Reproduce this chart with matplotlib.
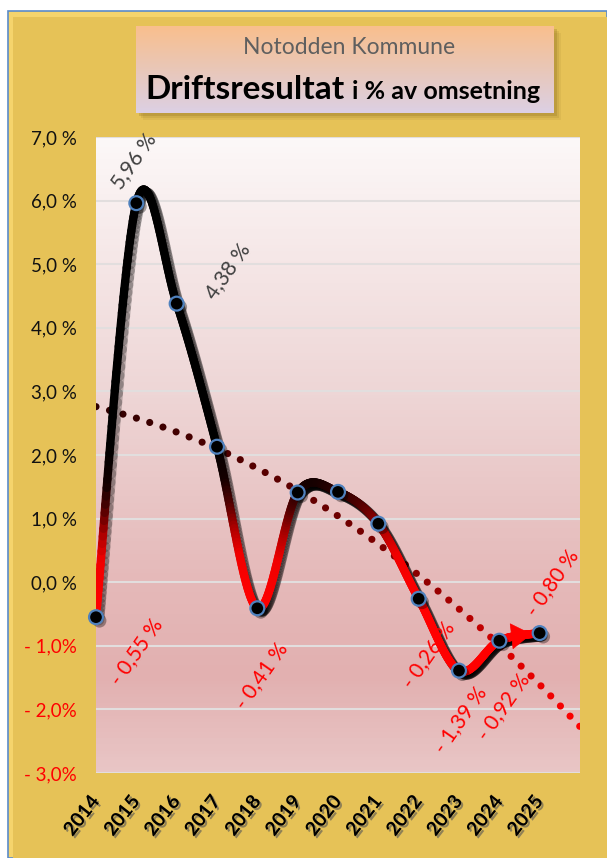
import numpy as np
import matplotlib
matplotlib.use('Agg')
import matplotlib.pyplot as plt
from matplotlib.collections import LineCollection
from matplotlib.colors import LinearSegmentedColormap
from matplotlib.patches import Rectangle, FancyArrowPatch
import matplotlib.patheffects as pe
import matplotlib.transforms as mtransforms

plt.rcParams['font.family'] = ['Lato', 'DejaVu Sans']

# data
years = ['2014', '2015', '2016', '2017', '2018', '2019',
         '2020', '2021', '2022', '2023', '2024', '2025']
values = [-0.55, 5.96, 4.38, 2.13, -0.41, 1.41, 1.42, 0.92, -0.26, -1.39, -0.92, -0.80]
labelled = [0, 1, 2, 4, 8, 9, 10, 11]          # which points carry a data label
trend = [2.76, 2.58, 2.36, 2.10, 1.79, 1.44, 1.04, 0.60, 0.11, -0.42, -0.99, -1.61, -2.27]
yticks = [-3, -2, -1, 0, 1, 2, 3, 4, 5, 6, 7]
ytick_labels = ['- 3,0%', '- 2,0%', '- 1,0%', '0,0 %', '1,0 %', '2,0 %',
                '3,0 %', '4,0 %', '5,0 %', '6,0 %', '7,0 %']

# label offsets in pixels (placement only)
label_offsets = {0: (41, -35), 1: (-3, 42), 2: (51, 33), 4: (4, -67),
                 8: (10, -56), 9: (2, -49), 10: (4, -66), 11: (13, 50)}


def smooth(x, y, n=60):
    # excel-like smoothed line (catmull-rom bezier)
    x = np.asarray(x, float)
    y = np.asarray(y, float)
    xp = np.concatenate([[x[0]], x, [x[-1]]])
    yp = np.concatenate([[y[0]], y, [y[-1]]])
    t = np.linspace(0, 1, n)
    xs, ys = [], []
    for i in range(len(x) - 1):
        p0 = np.array([x[i], y[i]])
        p3 = np.array([x[i + 1], y[i + 1]])
        p1 = p0 + (np.array([xp[i + 2], yp[i + 2]]) - np.array([xp[i], yp[i]])) / 6
        p2 = p3 - (np.array([xp[i + 3], yp[i + 3]]) - np.array([xp[i + 1], yp[i + 1]])) / 6
        b = ((1 - t) ** 3)[:, None] * p0 + (3 * (1 - t) ** 2 * t)[:, None] * p1 \
            + (3 * (1 - t) * t ** 2)[:, None] * p2 + (t ** 3)[:, None] * p3
        if i > 0:
            b = b[1:]
        xs.append(b[:, 0])
        ys.append(b[:, 1])
    return np.concatenate(xs), np.concatenate(ys)


fig = plt.figure(figsize=(6.07, 8.58), dpi=100)
fig.patch.set_facecolor('white')

# gold panel with thin blue frame
W, H = 607, 858
fig.patches.append(Rectangle((8 / W, 0), 1 - 8 / W, 1 - 11 / H, transform=fig.transFigure,
                             facecolor='#F5D46C', edgecolor='#5B8BC9', lw=1.2, zorder=-3))
fig.patches.append(Rectangle((13 / W, 0), 1 - 13 / W, 1 - 17 / H, transform=fig.transFigure,
                             facecolor='#E6C257', edgecolor='none', zorder=-2))

# title box with shadow and gradient
bx, by, bw, bh = 136 / W, 1 - 113 / H, 418 / W, 87 / H
for k, a in [(7, 0.10), (5, 0.15), (3, 0.25)]:
    fig.patches.append(Rectangle((bx + k / W, by - k / H), bw, bh, transform=fig.transFigure,
                                 facecolor='#8a6d20', alpha=a, edgecolor='none', zorder=-1))
tax = fig.add_axes([bx, by, bw, bh])
tcmap = LinearSegmentedColormap.from_list('title', ['#DCD0E4', '#E9C7B8', '#F9BF8E'])
tax.imshow(np.linspace(0, 1, 100)[:, None], cmap=tcmap, aspect='auto', origin='lower',
           extent=[0, 1, 0, 1])
tax.axis('off')
fig.text(349 / W, 1 - 48 / H, 'Notodden Kommune', ha='center', va='center',
         fontsize=16.5, color='#5F5F5F')
fig.text(145 / W, 1 - 99 / H, 'Driftsresultat', ha='left', va='baseline',
         fontsize=24, fontweight='bold', color='black')
fig.text(352 / W, 1 - 99 / H, 'i % av omsetning', ha='left', va='baseline',
         fontsize=18, fontweight='bold', color='black')

# plot area
ax = fig.add_axes([96 / W, 85 / H, 484 / W, 636 / H])
ax.set_xlim(0, 12)
ax.set_ylim(-3, 7)
bg = LinearSegmentedColormap.from_list('bg', [(0.0, '#E9C6C6'), (0.15, '#E2B0B0'),
                                              (0.3, '#E5B9B9'), (0.6, '#EED6D6'),
                                              (0.8, '#F5E6E6'), (1.0, '#FCF8F8')])
ax.imshow(np.linspace(0, 1, 200)[:, None], cmap=bg, aspect='auto', origin='lower',
          extent=[0, 12, -3, 7], zorder=0)
for s in ax.spines.values():
    s.set_visible(False)
ax.set_yticks(yticks)
ax.set_yticklabels(ytick_labels)
ax.grid(axis='y', color='#E2DEDE', lw=1.5, zorder=1)
ax.tick_params(length=0, labelsize=13.5)
ax.tick_params(axis='y', pad=14)
for t, v in zip(ax.get_yticklabels(), yticks):
    t.set_color('red' if v < 0 else '#111111')

ax.set_xticks(range(len(years)))
ax.set_xticklabels(years, rotation=52, ha='right', va='center', rotation_mode='anchor',
                   fontweight='bold', fontsize=14,
                   path_effects=[pe.SimplePatchShadow(offset=(1.5, -1.5), shadow_rgbFace='#555555',
                                                      alpha=0.6), pe.Normal()])
ax.tick_params(axis='x', pad=18)

# trend line as round dots, coloured from dark to red
fig.canvas.draw()
tx, ty = smooth(np.arange(len(trend)), trend)
disp = ax.transData.transform(np.column_stack([tx, ty]))
dist = np.concatenate([[0], np.cumsum(np.hypot(np.diff(disp[:, 0]), np.diff(disp[:, 1])))])
steps = np.arange(0, dist[-1], 14)
dx = np.interp(steps, dist, tx)
dy = np.interp(steps, dist, ty)
dcmap = LinearSegmentedColormap.from_list('dots', [(0, '#2E0000'), (0.45, '#640000'),
                                                  (0.68, '#8E0000'), (0.85, '#D80000'),
                                                  (1.0, '#FF0000')])
ax.scatter(dx, dy, s=26, c=dcmap(dx / 12), edgecolors='none', zorder=2)

# main smoothed line, coloured by value
lx, ly = smooth(np.arange(len(values)), values)
pts = np.column_stack([lx, ly]).reshape(-1, 1, 2)
segs = np.concatenate([pts[:-1], pts[1:]], axis=1)
lcmap = LinearSegmentedColormap.from_list('line', [(0, '#FF0000'), (0.28, '#F00000'),
                                                   (0.45, '#A80000'), (0.6, '#500000'),
                                                   (0.75, '#150000'), (1.0, '#000000')])
mid = (ly[:-1] + ly[1:]) / 2
cvals = np.clip((mid + 0.3) / 2.5, 0, 1)
shadow_tr = mtransforms.offset_copy(ax.transData, fig=fig, x=3, y=-3, units='dots')
ax.add_collection(LineCollection(segs, colors=(0, 0, 0, 0.22), linewidths=7.5,
                                 capstyle='round', joinstyle='round', transform=shadow_tr,
                                 zorder=3))
ax.add_collection(LineCollection(segs, colors=lcmap(cvals), linewidths=6,
                                 capstyle='round', joinstyle='round', zorder=4))

# arrow head on the last stretch
seg_mask = lx >= 10
tip_x, tail_x = 10.8, 10.5
tip_y = np.interp(tip_x, lx[seg_mask], ly[seg_mask])
tail_y = np.interp(tail_x, lx[seg_mask], ly[seg_mask])
ax.add_patch(FancyArrowPatch((tail_x, tail_y), (tip_x, tip_y),
                             arrowstyle='-|>,head_length=14,head_width=9', mutation_scale=1,
                             color='red', lw=0.5, shrinkA=0, shrinkB=0, zorder=4))

ax.plot(range(len(values)), values, 'o', ms=10, mfc='black', mec='#4F81BD', mew=1.6,
        clip_on=False, zorder=6,
        path_effects=[pe.SimplePatchShadow(offset=(2.5, -2.5), shadow_rgbFace='black',
                                           alpha=0.35), pe.Normal()])

for i in labelled:
    v = values[i]
    txt = ('- ' if v < 0 else '') + f'{abs(v):.2f}'.replace('.', ',') + ' %'
    ax.annotate(txt, xy=(i, v), xytext=label_offsets[i], textcoords='offset pixels',
                rotation=55, ha='center', va='center', fontsize=15,
                color='red' if v < 0 else '#404040', zorder=7, annotation_clip=False)

fig.savefig('out.png', dpi=100)
